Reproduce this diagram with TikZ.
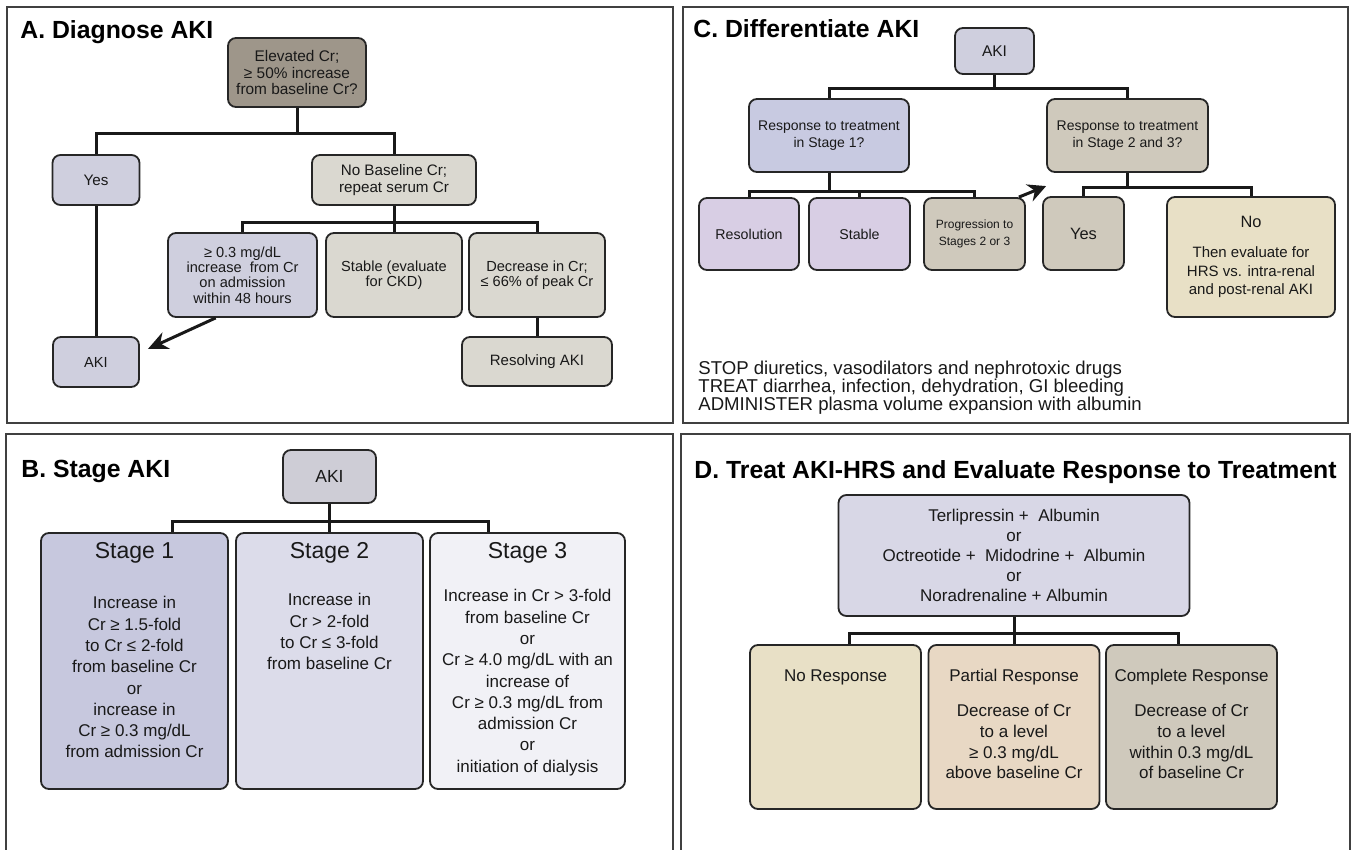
\documentclass[tikz,border=0pt]{standalone}
\usepackage{fontspec}
\setmainfont{Liberation Sans}
\usepackage{xcolor}
\usepackage{tikz}
\usetikzlibrary{positioning, calc, arrows.meta}

\definecolor{taupe}{HTML}{9E968A}
\definecolor{lavender}{HTML}{CFCFDE}
\definecolor{stone}{HTML}{DAD8D0}
\definecolor{periwinkle}{HTML}{C8CAE1}
\definecolor{sand}{HTML}{CFC9BC}
\definecolor{lilac}{HTML}{D8CEE4}
\definecolor{cream}{HTML}{E8E0C6}
\definecolor{peach}{HTML}{E8D8C4}
\definecolor{mist}{HTML}{CECDD6}
\definecolor{stageone}{HTML}{C7C8DE}
\definecolor{stagetwo}{HTML}{DCDCEA}
\definecolor{stagethree}{HTML}{F1F1F6}
\definecolor{pale}{HTML}{D8D7E6}

\begin{document}
\begin{tikzpicture}[x=0.5pt, y=-0.5pt,
    box/.style={draw=black!85, line width=0.9pt, rounded corners=4pt, align=center,
                inner sep=0pt, text=black!90, font=\fontsize{7.3}{7.6}\selectfont},
    conn/.style={line width=1.5pt, black!90},
    frame/.style={line width=1pt, black!75},
    title/.style={anchor=base west, inner sep=0pt, font=\fontsize{12.4}{14}\selectfont\bfseries},
    txt/.style={inner sep=0pt, align=center, text=black!90}]
    \fill[white] (0,0) rectangle (1353,850);
    \useasboundingbox (0,0) rectangle (1353,850);

    % panel frames
    \draw[frame] (7,7) rectangle (673,423);
    \draw[frame] (683,7) rectangle (1348,423);
    \draw[frame] (6,850) |- (673,434) -- (673,850);
    \draw[frame] (681,850) |- (1350,434) -- (1350,850);

    % A. Diagnose AKI
    \node[title] (titleA) at (20,39) {A. Diagnose AKI};
    \node[box, fill=taupe, minimum width=69pt, minimum height=34.5pt, font=\fontsize{7.7}{8.2}\selectfont] (elevA) at (297,72.5) {Elevated Cr;\\≥ 50\% increase\\from baseline Cr?};
    \node[box, fill=lavender, minimum width=43.5pt, minimum height=25pt, font=\fontsize{7.6}{8}\selectfont] (yesA) at (96,180) {Yes};
    \node[box, fill=stone, minimum width=82pt, minimum height=25pt, font=\fontsize{7.6}{8.2}\selectfont] (nobaseA) at (394,180) {No Baseline Cr;\\repeat serum Cr};
    \node[box, fill=lavender, minimum width=74.5pt, minimum height=42pt] (riseA) at (242.5,275) {≥ 0.3 mg/dL\\increase\ \ from Cr\\on admission\\within 48 hours};
    \node[box, fill=stone, minimum width=68pt, minimum height=42pt] (stableA) at (394,275) {Stable (evaluate\\for CKD)};
    \node[box, fill=stone, minimum width=68pt, minimum height=42pt] (decA) at (537,275) {Decrease in Cr;\\≤ 66\% of peak Cr};
    \node[box, fill=lavender, minimum width=43pt, minimum height=25pt] (akiA) at (96,362) {AKI};
    \node[box, fill=stone, minimum width=75pt, minimum height=24.5pt, font=\fontsize{7.5}{8}\selectfont] (resolvA) at (537,361.5) {Resolving AKI};

    \draw[conn] (elevA.south) -- ++(0,26) coordinate (busA);
    \draw[conn] (yesA.north) |- (busA) -| (nobaseA.north);
    \draw[conn] (nobaseA.south) -- ++(0,17) coordinate (busA2);
    \draw[conn] (riseA.north) |- (busA2) -| (decA.north);
    \draw[conn] (stableA.north) -- (busA2);
    \draw[conn] (decA.south) -- (resolvA.north);
    \draw[conn] (yesA.south) -- (akiA.north);
    \draw[conn, -{Stealth[length=10pt, width=9pt]}] (riseA.238) -- ($(akiA.east)+(8,-13)$);

    % C. Differentiate AKI
    \node[title] (titleC) at (693,38) {C. Differentiate AKI};
    \node[box, fill=lavender, minimum width=39.5pt, minimum height=23pt, font=\fontsize{7.75}{9}\selectfont] (akiC) at (994.5,51) {AKI};
    \node[box, fill=periwinkle, minimum width=80pt, minimum height=36.5pt, font=\fontsize{7}{8.5}\selectfont] (resp1C) at (829,135.5) {Response to treatment\\in Stage 1?};
    \node[box, fill=sand, minimum width=80.5pt, minimum height=36.5pt, font=\fontsize{7}{8.5}\selectfont] (resp23C) at (1127.5,135.5) {Response to treatment\\in Stage 2 and 3?};
    \node[box, fill=lilac, minimum width=50pt, minimum height=36pt, font=\fontsize{7.1}{8}\selectfont] (resolC) at (749,234) {Resolution};
    \node[box, fill=lilac, minimum width=50.5pt, minimum height=36pt, font=\fontsize{7.1}{8}\selectfont] (stabC) at (859.5,234) {Stable};
    \node[box, fill=sand, minimum width=50.5pt, minimum height=36pt, font=\fontsize{6}{8.3}\selectfont] (progC) at (974.5,234) {Progression to\\Stages 2 or 3};
    \node[box, fill=sand, minimum width=40.5pt, minimum height=36.5pt, font=\fontsize{8.2}{9}\selectfont] (yesC) at (1083.5,233.5) {Yes};
    \node[box, fill=cream, minimum width=84pt, minimum height=60pt, font=\fontsize{7.5}{9.4}\selectfont] (noC) at (1251,257) {{\fontsize{8.2}{9}\selectfont No}\\[5.6pt]Then evaluate for\\HRS vs. intra-renal\\and post-renal AKI};
    \node[txt, anchor=west, align=left, font={\fontsize{9.3}{9}\selectfont\lineskiplimit=-5pt}] (actionsC) at (698,388) {STOP diuretics, vasodilators and nephrotoxic drugs\\TREAT diarrhea, infection, dehydration, GI bleeding\\ADMINISTER plasma volume expansion with albumin};

    \draw[conn] (akiC.south) -- ++(0,14) coordinate (busC);
    \draw[conn] (resp1C.north) |- (busC) -| (resp23C.north);
    \draw[conn] (resp1C.south) -- ++(0,19) coordinate (busC2);
    \draw[conn] (resolC.north) |- (busC2) -| (progC.north);
    \draw[conn] (stabC.north) -- (stabC.north |- busC2);
    \draw[conn] (resp23C.south) -- ++(0,15) coordinate (busC3);
    \draw[conn] (yesC.north) |- (busC3) -| (noC.north);
    \draw[conn, -{Stealth[length=9pt, width=9pt]}] ($(progC.north east)+(-7,0)$) -- ($(yesC.north west)+(4,-10)$);

    % B. Stage AKI
    \node[title] (titleB) at (21,477) {B. Stage AKI};
    \node[box, fill=mist, minimum width=46.5pt, minimum height=26.5pt, font=\fontsize{8.75}{10}\selectfont] (akiB) at (329.5,476.5) {AKI};
    \node[box, fill=stageone, minimum width=93.5pt, minimum height=128pt] (stage1B) at (134.5,661) {};
    \node[box, fill=stagetwo, minimum width=93.5pt, minimum height=128pt] (stage2B) at (329.5,661) {};
    \node[box, fill=stagethree, minimum width=97.5pt, minimum height=128pt] (stage3B) at (527.5,661) {};
    \node[txt, font=\fontsize{11.5}{13}\selectfont] (head1B) at ($(stage1B.north)+(0,21)$) {Stage 1};
    \node[txt, font=\fontsize{11.5}{13}\selectfont] (head2B) at ($(stage2B.north)+(0,21)$) {Stage 2};
    \node[txt, font=\fontsize{11.5}{13}\selectfont] (head3B) at ($(stage3B.north)+(0,21)$) {Stage 3};
    \node[txt, anchor=north, font=\fontsize{8.5}{10.65}\selectfont] (body1B) at ($(stage1B.north)+(0,64)$) {Increase in\\Cr ≥ 1.5-fold\\to Cr ≤ 2-fold\\from baseline Cr\\or\\increase in\\Cr ≥ 0.3 mg/dL\\from admission Cr};
    \node[txt, anchor=north, font=\fontsize{8.5}{10.65}\selectfont] (body2B) at ($(stage2B.north)+(0,61)$) {Increase in\\Cr > 2-fold\\to Cr ≤ 3-fold\\from baseline Cr};
    \node[txt, anchor=north, font=\fontsize{8.5}{10.65}\selectfont] (body3B) at ($(stage3B.north)+(0,57)$) {Increase in Cr > 3-fold\\from baseline Cr\\or\\Cr ≥ 4.0 mg/dL with an\\increase of\\Cr ≥ 0.3 mg/dL from\\admission Cr\\or\\initiation of dialysis};

    \draw[conn] (akiB.south) -- (stage2B.north);
    \coordinate (busB) at ($(akiB.south)+(0,18)$);
    \draw[conn] ($(stage1B.north)+(37.5,0)$) |- (busB) -| ($(stage3B.north)+(-39.5,0)$);

    % D. Treat AKI-HRS and Evaluate Response to Treatment
    \node[title] (titleD) at (694,478) {D. Treat AKI-HRS and Evaluate Response to Treatment};
    \node[box, fill=pale, minimum width=175.5pt, minimum height=60.5pt, font=\fontsize{8.5}{9.9}\selectfont] (treatD) at (1014,555.5) {Terlipressin +\ \ Albumin\\or\\Octreotide +\ \ Midodrine +\ \ Albumin\\or\\Noradrenaline + Albumin};
    \node[box, fill=cream, minimum width=85.5pt, minimum height=82pt] (noRespD) at (835.5,727) {};
    \node[box, fill=peach, minimum width=85.5pt, minimum height=82pt] (partD) at (1014,727) {};
    \node[box, fill=sand, minimum width=85.5pt, minimum height=82pt] (compD) at (1191.5,727) {};
    \node[txt, font=\fontsize{8.5}{10}\selectfont] (head1D) at ($(noRespD.north)+(0,33)$) {No Response};
    \node[txt, font=\fontsize{8.5}{10}\selectfont] (head2D) at ($(partD.north)+(0,33)$) {Partial Response};
    \node[txt, font=\fontsize{8.5}{10}\selectfont] (head3D) at ($(compD.north)+(0,33)$) {Complete Response};
    \node[txt, anchor=north, font=\fontsize{8.5}{10.3}\selectfont] (body2D) at ($(partD.north)+(0,60)$) {Decrease of Cr\\to a level\\≥ 0.3 mg/dL\\above baseline Cr};
    \node[txt, anchor=north, font=\fontsize{8.5}{10.3}\selectfont] (body3D) at ($(compD.north)+(0,60)$) {Decrease of Cr\\to a level\\within 0.3 mg/dL\\of baseline Cr};

    \draw[conn] (treatD.south) -- (partD.north);
    \coordinate (busD) at ($(treatD.south)+(0,17)$);
    \draw[conn] ($(noRespD.north)+(13.5,0)$) |- (busD) -| ($(compD.north)+(-13.5,0)$);
\end{tikzpicture}
\end{document}
